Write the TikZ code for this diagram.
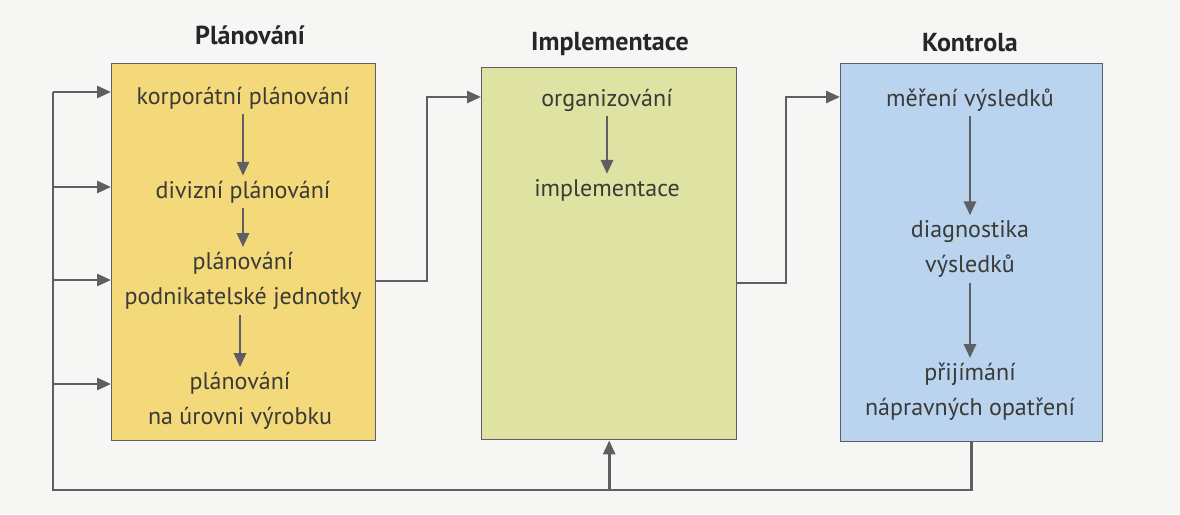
\documentclass[tikz,border=0pt]{standalone}
\usepackage{fontspec}
\setmainfont{PT Sans}
\usetikzlibrary{arrows.meta}
\definecolor{bgc}{HTML}{F6F6F4}
\definecolor{planfill}{HTML}{F3D97A}
\definecolor{implfill}{HTML}{DEE3A3}
\definecolor{konfill}{HTML}{BAD3EE}
\definecolor{linec}{HTML}{5F5F63}
\definecolor{textc}{HTML}{3A3A36}
\begin{document}
\begin{tikzpicture}[x=1pt,y=-1pt,
  box/.style={draw=linec, line width=1.4pt, anchor=north west, inner sep=0pt},
  lbl/.style={font=\fontsize{24}{35}\selectfont, text=textc, align=center, inner sep=0pt},
  ttl/.style={font=\fontsize{26}{30}\selectfont\bfseries, text=black!85, inner sep=0pt},
  conn/.style={draw=linec, line width=2.8pt, -{Triangle[length=14pt,width=12pt]}},
  flow/.style={draw=linec, line width=2.8pt},
  inarr/.style={draw=linec, line width=2.8pt, -{Triangle[length=14pt,width=12pt]}, shorten <=5pt, shorten >=5pt}]
\fill[bgc] (0,0) rectangle (1180,514);
\useasboundingbox (0,0) rectangle (1180,514);

% boxes
\node[box, fill=planfill, minimum width=264pt, minimum height=377pt] (plan) at (111,63) {};
\node[box, fill=implfill, minimum width=255pt, minimum height=372pt] (impl) at (481,67) {};
\node[box, fill=konfill, minimum width=262pt, minimum height=378pt] (kon) at (840,63) {};

% titles
\node[ttl] (tplan) at (250,35) {Plánování};
\node[ttl] (timpl) at (610,44) {Implementace};
\node[ttl] (tkon) at (970,43) {Kontrola};

% planning labels
\node[lbl] (k1) at (243,98) {korporátní plánování};
\node[lbl] (k2) at (243,192) {divizní plánování};
\node[lbl] (k3) at (243,281) {plánování\\podnikatelské jednotky};
\node[lbl] (k4) at (240,401) {plánování\\na úrovni výrobku};
\draw[inarr] (k1) -- (k2);
\draw[inarr] (k2) -- (k3);
\draw[inarr] (k3.south -| k4.north) -- (k4);

% implementation labels
\node[lbl] (i1) at (607,100) {organizování};
\node[lbl] (i2) at (607,190) {implementace};
\draw[inarr] (i1) -- (i2);

% control labels
\node[lbl] (c1) at (970,100) {měření výsledků};
\node[lbl] (c2) at (970,249) {diagnostika\\výsledků};
\node[lbl] (c3) at (970,392) {přijímání\\nápravných opatření};
\draw[inarr] (c1) -- (c2);
\draw[inarr] (c2) -- (c3);

% plan -> impl
\coordinate (pe) at (plan.east |- 0,281);
\coordinate (pi) at (427,97);
\draw[conn] (pe) -| (pi) -- (pi -| impl.west);

% impl -> kon
\coordinate (ie) at (impl.east |- 0,283);
\coordinate (ik) at (786,97);
\draw[conn] (ie) -| (ik) -- (ik -| kon.west);

% feedback loop
\coordinate (fbl) at (53,490);
\coordinate (fbt) at (53,92);
\draw[flow] (kon.south) |- (fbl) -- (fbt);
\coordinate (a1) at (53,92);
\coordinate (a2) at (53,187);
\coordinate (a3) at (53,280);
\coordinate (a4) at (53,384);
\draw[conn] (a1) -- (a1 -| plan.west);
\draw[conn] (a2) -- (a2 -| plan.west);
\draw[conn] (a3) -- (a3 -| plan.west);
\draw[conn] (a4) -- (a4 -| plan.west);
\coordinate (fbi) at (impl.south |- fbl);
\draw[conn] (fbi) -- (impl.south);
\end{tikzpicture}
\end{document}
